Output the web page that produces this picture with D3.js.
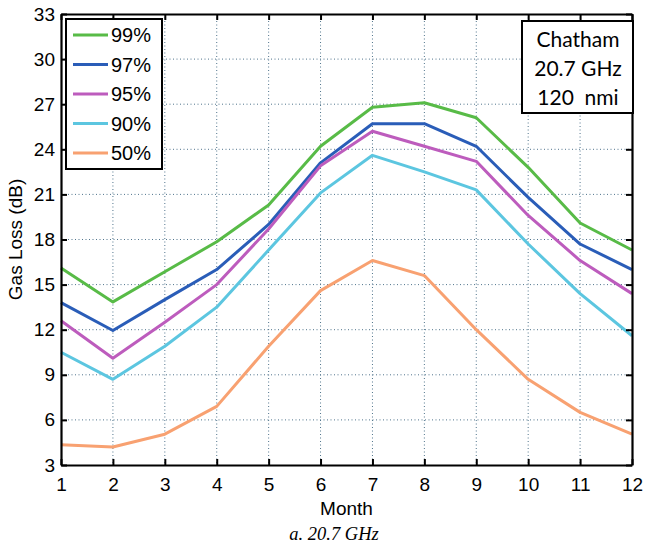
<!DOCTYPE html>
<html>
<head>
<meta charset="utf-8">
<script src="https://cdn.jsdelivr.net/npm/d3@7"></script>
<style>
  body { margin: 0; background: #fff; }
  svg { display: block; }
</style>
</head>
<body>
<div id="chart"></div>
<script>
(function () {

  // ---------------------------------------------------------------------
  // Data
  // ---------------------------------------------------------------------
  const months = [1, 2, 3, 4, 5, 6, 7, 8, 9, 10, 11, 12];
  const yTicks = [3, 6, 9, 12, 15, 18, 21, 24, 27, 30, 33];

  const seriesNames = ["99%", "97%", "95%", "90%", "50%"];
  const seriesColors = ["#58bb47", "#2a5db8", "#bd5cbd", "#5cc6e0", "#f8a171"];

  const p99 = [16.1, 13.85, 15.85, 17.85, 20.3, 24.2, 26.8, 27.1, 26.1, 22.8, 19.1, 17.3];
  const p97 = [13.8, 11.95, 14.0, 16.0, 19.0, 23.1, 25.7, 25.7, 24.2, 20.8, 17.7, 16.0];
  const p95 = [12.6, 10.1, 12.5, 15.0, 18.7, 22.9, 25.2, 24.2, 23.2, 19.6, 16.6, 14.4];
  const p90 = [10.5, 8.7, 10.9, 13.5, 17.3, 21.1, 23.6, 22.5, 21.3, 17.7, 14.4, 11.6];
  const p50 = [4.35, 4.2, 5.05, 6.9, 10.9, 14.6, 16.6, 15.6, 12.0, 8.7, 6.5, 5.05];

  const seriesValues = [p99, p97, p95, p90, p50];

  const infoLines = ["Chatham", "20.7 GHz", "120  nmi"];

  // ---------------------------------------------------------------------
  // Layout
  // ---------------------------------------------------------------------
  const W = 647, H = 548;
  const left = 61, right = 632, top = 14, bottom = 465;
  const sans = "'Liberation Sans', Arial, Helvetica, sans-serif";

  const svg = d3.select("#chart").append("svg")
    .attr("width", W).attr("height", H);

  const x = d3.scaleLinear().domain([1, 12]).range([left, right]);
  const y = d3.scaleLinear().domain([3, 33]).range([bottom, top]);

  // grid
  const grid = svg.append("g")
    .attr("stroke", "#50748c").attr("stroke-width", 1)
    .attr("stroke-dasharray", "1,2.5");
  grid.selectAll("line.v").data(months.slice(1, -1)).join("line")
    .attr("x1", (d) => x(d)).attr("x2", (d) => x(d))
    .attr("y1", top).attr("y2", bottom);
  grid.selectAll("line.h").data(yTicks.slice(1, -1)).join("line")
    .attr("y1", (d) => y(d)).attr("y2", (d) => y(d))
    .attr("x1", left).attr("x2", right);

  // series lines
  const line = d3.line().x((d, i) => x(months[i])).y((d) => y(d));
  svg.append("g").selectAll("path").data(seriesValues).join("path")
    .attr("d", line)
    .attr("fill", "none")
    .attr("stroke", (d, i) => seriesColors[i])
    .attr("stroke-width", 3)
    .attr("stroke-linejoin", "round");

  // axes: ticks pointing inward on all four sides
  const tickLen = 6;
  const axB = svg.append("g").attr("transform", `translate(0,${bottom})`)
    .call(d3.axisBottom(x).tickValues(months).tickFormat(d3.format("d"))
      .tickSizeInner(-tickLen).tickSizeOuter(0).tickPadding(13));
  const axT = svg.append("g").attr("transform", `translate(0,${top})`)
    .call(d3.axisTop(x).tickValues(months).tickFormat("")
      .tickSizeInner(-tickLen).tickSizeOuter(0));
  const axL = svg.append("g").attr("transform", `translate(${left},0)`)
    .call(d3.axisLeft(y).tickValues(yTicks).tickFormat(d3.format("d"))
      .tickSizeInner(-tickLen).tickSizeOuter(0).tickPadding(6));
  const axR = svg.append("g").attr("transform", `translate(${right},0)`)
    .call(d3.axisRight(y).tickValues(yTicks).tickFormat("")
      .tickSizeInner(-tickLen).tickSizeOuter(0));

  [axB, axT, axL, axR].forEach((a) => {
    a.select(".domain").attr("stroke", "#000").attr("stroke-width", 2.2);
    a.selectAll(".tick line").attr("stroke", "#000").attr("stroke-width", 2);
    a.selectAll(".tick text").attr("fill", "#000")
      .style("font-family", sans).style("font-size", "19px");
  });

  // axis titles
  svg.append("text")
    .attr("x", (left + right) / 2).attr("y", 515)
    .attr("text-anchor", "middle")
    .style("font-family", sans).style("font-size", "19px").attr("fill", "#000")
    .text("Month");

  svg.append("text")
    .attr("transform", `translate(22,${(top + bottom) / 2}) rotate(-90)`)
    .attr("text-anchor", "middle")
    .style("font-family", sans).style("font-size", "19px").attr("fill", "#000")
    .text("Gas Loss (dB)");

  svg.append("text")
    .attr("x", 334).attr("y", 540)
    .attr("text-anchor", "middle")
    .style("font-family", "'Liberation Serif', 'Times New Roman', serif")
    .style("font-size", "18.5px").style("font-style", "italic").attr("fill", "#000")
    .text("a. 20.7 GHz");

  // legend
  const legend = svg.append("g");
  legend.append("rect")
    .attr("x", 66).attr("y", 19).attr("width", 96).attr("height", 150)
    .attr("fill", "#fff").attr("stroke", "#000").attr("stroke-width", 2);
  const rowY = d3.scalePoint().domain(seriesNames).range([35, 153]);
  const rows = legend.selectAll("g.row").data(seriesNames).join("g")
    .attr("transform", (d) => `translate(0,${rowY(d)})`);
  rows.append("line")
    .attr("x1", 73).attr("x2", 108)
    .attr("stroke", (d, i) => seriesColors[i]).attr("stroke-width", 3);
  rows.append("text")
    .attr("x", 111).attr("dy", "0.36em")
    .style("font-family", sans).style("font-size", "20px").attr("fill", "#000")
    .text((d) => d);

  // info box
  const info = svg.append("g");
  info.append("rect")
    .attr("x", 522).attr("y", 21).attr("width", 111).attr("height", 92)
    .attr("fill", "#fff").attr("stroke", "#000").attr("stroke-width", 2);
  info.selectAll("text").data(infoLines).join("text")
    .attr("x", 578).attr("y", (d, i) => 47 + i * 29)
    .attr("text-anchor", "middle")
    .style("font-family", "Lato, 'Open Sans', sans-serif").style("font-size", "21px")
    .style("white-space", "pre").attr("fill", "#000")
    .text((d) => d);

})();
</script>
</body>
</html>
